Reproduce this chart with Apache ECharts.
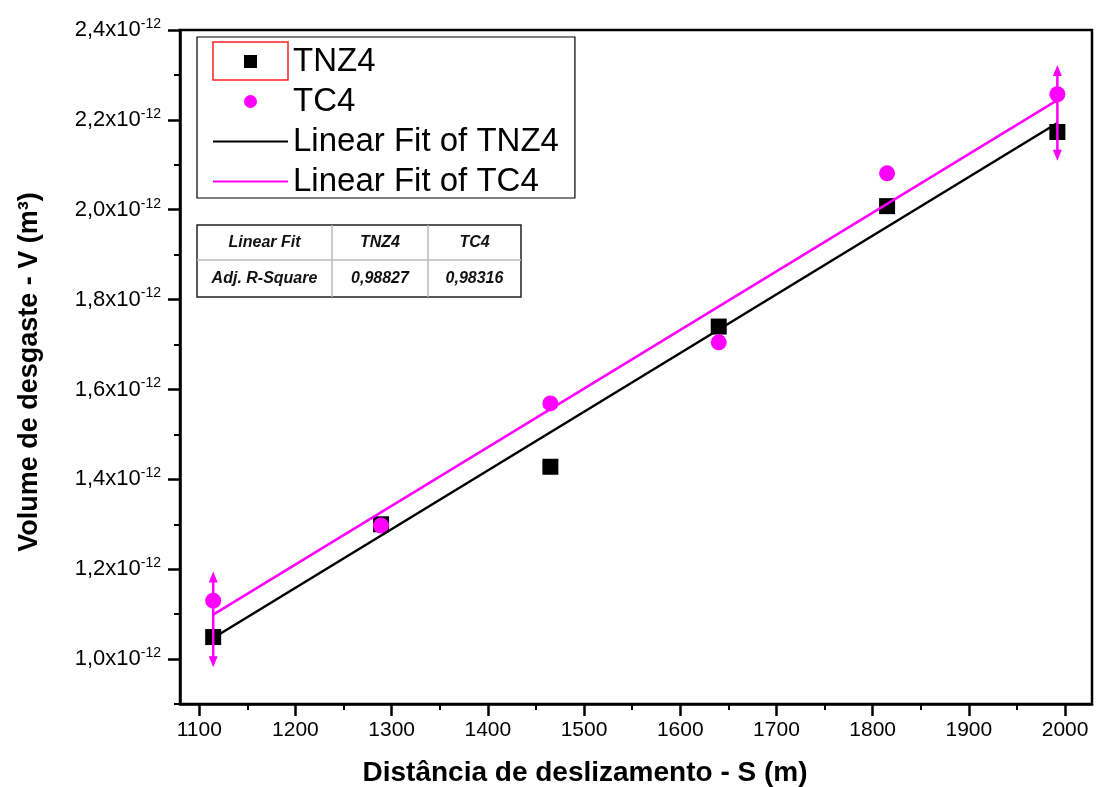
<!DOCTYPE html>
<html><head><meta charset="utf-8">
<script src="https://cdn.jsdelivr.net/npm/echarts@6/dist/echarts.min.js"></script>
<style>html,body{margin:0;padding:0;background:#fff}#c{width:1096px;height:787px}</style>
</head><body><div id="c"></div>
<script>
// Data (volume values in units of 1e-12 m^3)
const distance = [1114.5, 1289, 1465, 1640, 1815, 1992];
const tnz4 = [1.049, 1.300, 1.428, 1.740, 2.008, 2.173];
const tc4 = [1.130, 1.297, 1.569, 1.705, 2.081, 2.257];
const fitX = [1114.5, 1992];
const fitTNZ4 = [1.047, 2.193];
const fitTC4 = [1.099, 2.244];
const errX = [1114.5, 1992];
const errLow = [0.982, 2.109];
const errHigh = [1.195, 2.322];
const xTicks = [1100, 1200, 1300, 1400, 1500, 1600, 1700, 1800, 1900, 2000];
const xMinor = [1150, 1250, 1350, 1450, 1550, 1650, 1750, 1850, 1950];
const yTicks = [1.0, 1.2, 1.4, 1.6, 1.8, 2.0, 2.2, 2.4];
const yMinor = [0.9, 1.1, 1.3, 1.5, 1.7, 1.9, 2.1, 2.3];
const legendNames = ['TNZ4', 'TC4', 'Linear Fit of TNZ4', 'Linear Fit of TC4'];
const tableHeader = ['Linear Fit', 'TNZ4', 'TC4'];
const tableRow = ['Adj. R-Square', '0,98827', '0,98316'];
const xTitle = 'Distância de deslizamento - S (m)';
const yTitle = 'Volume de desgaste - V (m³)';

const MAG = '#ff00ff';
const chart = echarts.init(document.getElementById('c'), null, {renderer: 'canvas'});

const pairs = (xs, ys) => xs.map((x, i) => [x, ys[i]]);

// table graphic
const tX = [197, 332, 428, 521];
const tY = [225, 260, 297];
const tableEls = [
  {type: 'rect', shape: {x: tX[0], y: tY[0], width: tX[3] - tX[0], height: tY[2] - tY[0]},
   style: {fill: '#fff', stroke: '#222', lineWidth: 1.5}, z: 50},
  {type: 'line', shape: {x1: tX[0], y1: tY[1], x2: tX[3], y2: tY[1]}, style: {stroke: '#bbb', lineWidth: 1.5}, z: 51},
  {type: 'line', shape: {x1: tX[1], y1: tY[0], x2: tX[1], y2: tY[2]}, style: {stroke: '#bbb', lineWidth: 1.5}, z: 51},
  {type: 'line', shape: {x1: tX[2], y1: tY[0], x2: tX[2], y2: tY[2]}, style: {stroke: '#bbb', lineWidth: 1.5}, z: 51}
];
[tableHeader, tableRow].forEach((row, r) => {
  row.forEach((txt, c) => {
    tableEls.push({type: 'text', z: 52,
      x: (tX[c] + tX[c + 1]) / 2, y: (tY[r] + tY[r + 1]) / 2,
      style: {text: txt, fill: '#111', font: 'italic bold 16px "Liberation Sans", Arial, sans-serif',
        align: 'center', verticalAlign: 'middle'}});
  });
});

const hidden = {opacity: 0, color: 'rgba(0,0,0,0)', borderWidth: 0};

const option = {
  backgroundColor: '#fff',
  animation: false,
  grid: {left: 180, top: 30, right: 4, bottom: 83, show: true, borderColor: '#000', borderWidth: 2.5},
  xAxis: [{
    type: 'value', min: 1080, max: 2028,
    axisLine: {show: true, lineStyle: {color: '#000', width: 2.5}},
    axisTick: {show: true, inside: false, length: 12, lineStyle: {color: '#000', width: 2.5}, customValues: xTicks},
    axisLabel: {show: true, customValues: xTicks, margin: 16, color: '#000', fontSize: 21,
      formatter: v => String(v),
      fontFamily: '"Liberation Sans Narrow", "Liberation Sans", Arial, sans-serif'},
    splitLine: {show: false}
  }, {
    type: 'value', min: 1080, max: 2028, position: 'bottom',
    axisLine: {show: false},
    axisTick: {show: true, inside: false, length: 6, lineStyle: {color: '#000', width: 2}, customValues: xMinor},
    axisLabel: {show: false}, splitLine: {show: false}
  }],
  yAxis: [{
    type: 'value', min: 0.9, max: 2.4, position: 'left',
    axisLine: {show: true, lineStyle: {color: '#000', width: 2.5}},
    axisTick: {show: true, inside: false, length: 12, lineStyle: {color: '#000', width: 2.5}, customValues: yTicks},
    axisLabel: {show: true, customValues: yTicks, margin: 19, color: '#000',
      formatter: v => '{b|' + v.toFixed(1).replace('.', ',') + 'x10}{s|-12}',
      rich: {
        b: {fontSize: 22, fontFamily: '"Liberation Sans", Arial, sans-serif', color: '#000'},
        s: {fontSize: 14, fontFamily: '"Liberation Sans", Arial, sans-serif', color: '#000', padding: [0, 0, 12, 0]}
      }},
    splitLine: {show: false}
  }, {
    type: 'value', min: 0.9, max: 2.4, position: 'left',
    axisLine: {show: false},
    axisTick: {show: true, inside: false, length: 6, lineStyle: {color: '#000', width: 2}, customValues: yMinor},
    axisLabel: {show: false}, splitLine: {show: false}
  }],
  legend: {
    orient: 'vertical', left: 197, top: 37,
    data: [
      {name: legendNames[0], icon: 'path://M0,0L10,0L10,10L0,10Z'},
      {name: legendNames[1]},
      {name: legendNames[2], itemStyle: hidden},
      {name: legendNames[3], itemStyle: hidden}
    ],
    itemWidth: 75, itemHeight: 13, itemGap: 7, itemTextGap: 11,
    padding: [8, 16, 0, 15],
    borderColor: '#000', borderWidth: 1.2,
    selectedMode: false,
    textStyle: {fontSize: 33, lineHeight: 30, color: '#000', fontFamily: '"Liberation Sans", Arial, sans-serif'}
  },
  series: [
    {name: 'TNZ4', type: 'scatter', symbol: 'rect', symbolSize: 16, z: 2,
     itemStyle: {color: '#000', opacity: 1}, data: pairs(distance, tnz4)},
    {name: 'TC4', type: 'scatter', symbol: 'circle', symbolSize: 16, z: 3,
     itemStyle: {color: MAG, opacity: 1}, data: pairs(distance, tc4)},
    {name: 'Linear Fit of TNZ4', type: 'line', symbol: 'none', z: 4,
     lineStyle: {color: '#000', width: 2.5}, itemStyle: {color: '#000'}, data: pairs(fitX, fitTNZ4)},
    {name: 'Linear Fit of TC4', type: 'line', symbol: 'none', z: 5,
     lineStyle: {color: MAG, width: 2.5}, itemStyle: {color: MAG}, data: pairs(fitX, fitTC4)},
    {name: 'err', type: 'custom', z: 6,
     data: errX.map((x, i) => [x, errLow[i], errHigh[i]]),
     renderItem: (params, api) => {
       const x = api.value(0), lo = api.value(1), hi = api.value(2);
       const p1 = api.coord([x, hi]), p2 = api.coord([x, lo]);
       const aw = 4.5, ah = 11;
       return {type: 'group', children: [
         {type: 'line', shape: {x1: p1[0], y1: p1[1] + 4, x2: p2[0], y2: p2[1] - 4}, style: {stroke: MAG, lineWidth: 2.5}},
         {type: 'polygon', shape: {points: [[p1[0], p1[1]], [p1[0] - aw, p1[1] + ah], [p1[0] + aw, p1[1] + ah]]}, style: {fill: MAG}},
         {type: 'polygon', shape: {points: [[p2[0], p2[1]], [p2[0] - aw, p2[1] - ah], [p2[0] + aw, p2[1] - ah]]}, style: {fill: MAG}}
       ]};
     }}
  ],
  graphic: [
    {type: 'rect', shape: {x: 213, y: 42, width: 75, height: 38}, style: {fill: null, stroke: '#ff2020', lineWidth: 1.5}, z: 100},
    {type: 'text', x: 585, y: 773, z: 60,
     style: {text: xTitle, fill: '#000', font: 'bold 28px "Liberation Sans", Arial, sans-serif', align: 'center', verticalAlign: 'middle'}},
    {type: 'text', x: 30, y: 372, rotation: Math.PI / 2, z: 60,
     style: {text: yTitle, fill: '#000', font: 'bold 27px "Liberation Sans", Arial, sans-serif', align: 'center', verticalAlign: 'middle'}},
    ...tableEls
  ]
};
chart.setOption(option);
</script>
</body></html>
